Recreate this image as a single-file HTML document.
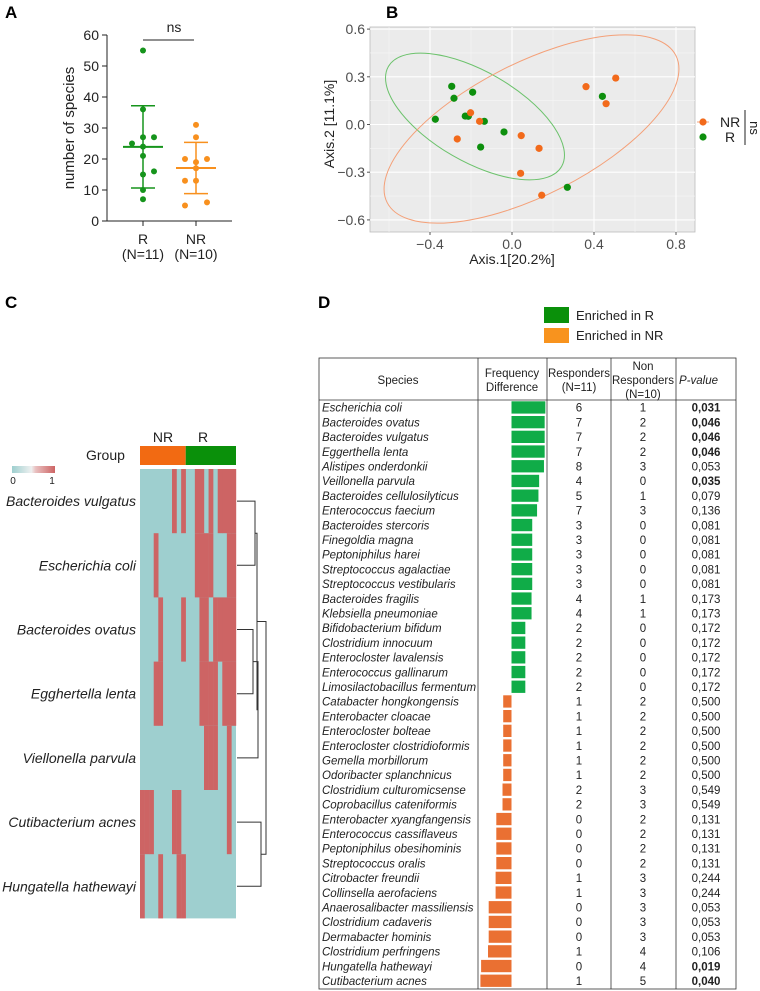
<!DOCTYPE html>
<html><head><meta charset="utf-8"><style>
html,body{margin:0;padding:0;background:#fff;}
svg{display:block;font-family:"Liberation Sans",Arial,sans-serif;}
</style></head><body>
<svg id="fig" width="760" height="991" viewBox="0 0 760 991" xmlns="http://www.w3.org/2000/svg">
<g id="pA"></g>
<g id="pB"></g>
<g id="pC"></g>
<g id="pD"></g>
</svg>
<script>
// ---- Panel A data ----
const aGroups = ["R","NR"];
const aGroupN = ["(N=11)","(N=10)"];
const aRvals = [55,36,27,27,25,24,21,15,16,10,7];
const aRjit = [0,0,0,1,-1,0,0,0,1,0,0];
const aNRvals = [31,27,20,19,20,17,13,13,6,5];
const aNRjit = [0,0,-1,0,1,0,-1,0,1,-1];
const aTicks = [0,10,20,30,40,50,60];
// ---- Panel B data ----
const bRx = [-0.294,-0.192,-0.283,-0.374,-0.228,-0.213,-0.135,-0.039,-0.153,0.441,0.270];
const bRy = [0.240,0.203,0.165,0.033,0.053,0.052,0.020,-0.047,-0.142,0.177,-0.395];
const bNRx = [0.506,0.361,0.459,-0.202,-0.158,-0.267,0.045,0.132,0.042,0.145];
const bNRy = [0.292,0.238,0.131,0.074,0.020,-0.091,-0.070,-0.150,-0.307,-0.445];
const bXticks = [-0.4,0.0,0.4,0.8];
const bYticks = [0.6,0.3,0.0,-0.3,-0.6];
// ---- Panel C data ----
const cSpecies = ["Bacteroides vulgatus","Escherichia coli","Bacteroides ovatus","Egghertella lenta","Viellonella parvula","Cutibacterium acnes","Hungatella hathewayi"];
const cPresent = [
 [7,9,12,13,15,17,18,19,20],
 [3,12,13,14,15,19,20],
 [4,9,13,14,16,17,18,19,20],
 [3,4,13,14,15,16,18,19,20],
 [14,15,16,19],
 [0,1,2,7,8,19],
 [0,4,8,9]
];
// ---- Panel D data ----
const dSpecies = ["Escherichia coli","Bacteroides ovatus","Bacteroides vulgatus","Eggerthella lenta","Alistipes onderdonkii","Veillonella parvula","Bacteroides cellulosilyticus","Enterococcus faecium","Bacteroides stercoris","Finegoldia magna","Peptoniphilus harei","Streptococcus agalactiae","Streptococcus vestibularis","Bacteroides fragilis","Klebsiella pneumoniae","Bifidobacterium bifidum","Clostridium innocuum","Enterocloster lavalensis","Enterococcus gallinarum","Limosilactobacillus fermentum","Catabacter hongkongensis","Enterobacter cloacae","Enterocloster bolteae","Enterocloster clostridioformis","Gemella morbillorum","Odoribacter splanchnicus","Clostridium culturomicsense","Coprobacillus cateniformis","Enterobacter xyangfangensis","Enterococcus cassiflaveus","Peptoniphilus obesihominis","Streptococcus oralis","Citrobacter freundii","Collinsella aerofaciens","Anaerosalibacter massiliensis","Clostridium cadaveris","Dermabacter hominis","Clostridium perfringens","Hungatella hathewayi","Cutibacterium acnes"];
const dR = [6,7,7,7,8,4,5,7,3,3,3,3,3,4,4,2,2,2,2,2,1,1,1,1,1,1,2,2,0,0,0,0,1,1,0,0,0,1,0,1];
const dNR = [1,2,2,2,3,0,1,3,0,0,0,0,0,1,1,0,0,0,0,0,2,2,2,2,2,2,3,3,2,2,2,2,3,3,3,3,3,4,4,5];
const dP = ["0,031","0,046","0,046","0,046","0,053","0,035","0,079","0,136","0,081","0,081","0,081","0,081","0,081","0,173","0,173","0,172","0,172","0,172","0,172","0,172","0,500","0,500","0,500","0,500","0,500","0,500","0,549","0,549","0,131","0,131","0,131","0,131","0,244","0,244","0,053","0,053","0,053","0,106","0,019","0,040"];

const NS="http://www.w3.org/2000/svg";
function mk(parent,tag,attrs,text){const e=document.createElementNS(NS,tag);for(const k in attrs)e.setAttribute(k,attrs[k]);if(text!==undefined)e.textContent=text;parent.appendChild(e);return e;}

// ================= Panel A =================
(function(){
const g=document.getElementById('pA');
const lab=mk(g,'text',{x:5,y:18,'font-size':17,'font-weight':'bold'},'A');


const y=v=>221-v*(186/60);
const xc=[143,196];
mk(g,'line',{x1:107,y1:35,x2:107,y2:221,stroke:'#222','stroke-width':1});
mk(g,'line',{x1:107,y1:221,x2:232,y2:221,stroke:'#222','stroke-width':1});
aTicks.forEach(t=>{
 mk(g,'line',{x1:102,y1:y(t),x2:107,y2:y(t),stroke:'#222'});
 const tl=mk(g,'text',{x:99,y:y(t)+5,'font-size':14,'text-anchor':'end',fill:'#222'},t);
 
 
});
xc.forEach((x,i)=>{
 mk(g,'line',{x1:x,y1:221,x2:x,y2:226,stroke:'#222'});
 const t1=mk(g,'text',{x:x,y:244,'font-size':14,'text-anchor':'middle',fill:'#222'},aGroups[i]);
 
 
 mk(g,'text',{x:x,y:259,'font-size':14,'text-anchor':'middle',fill:'#222'},aGroupN[i]);
});
const yt=mk(g,'text',{x:0,y:0,'font-size':15,'text-anchor':'middle',fill:'#222',transform:'translate(74,128) rotate(-90)'},'number of species');


mk(g,'line',{x1:143,y1:40,x2:194,y2:40,stroke:'#222'});
mk(g,'text',{x:174,y:32,'font-size':14,'text-anchor':'middle',fill:'#222'},'ns');
function grp(vals,jit,x,col,name){
 const n=vals.length,m=vals.reduce((a,b)=>a+b,0)/n;
 const sd=Math.sqrt(vals.reduce((a,b)=>a+(b-m)*(b-m),0)/(n-1));
 mk(g,'line',{x1:x,y1:y(m-sd),x2:x,y2:y(m+sd),stroke:col,'stroke-width':1.5});
 mk(g,'line',{x1:x-12,y1:y(m+sd),x2:x+12,y2:y(m+sd),stroke:col,'stroke-width':1.5});
 mk(g,'line',{x1:x-12,y1:y(m-sd),x2:x+12,y2:y(m-sd),stroke:col,'stroke-width':1.5});
 mk(g,'line',{x1:x-20,y1:y(m),x2:x+20,y2:y(m),stroke:col,'stroke-width':2});
 vals.forEach((v,i)=>{
  const c=mk(g,'circle',{cx:x+jit[i]*11,cy:y(v),r:3,fill:col});
  
  
 });
}
grp(aRvals,aRjit,xc[0],'#16941c','point-r');
grp(aNRvals,aNRjit,xc[1],'#f8901e','point-nr');
})();

// ================= Panel B =================
(function(){
const g=document.getElementById('pB');
const lab=mk(g,'text',{x:386,y:18,'font-size':17,'font-weight':'bold'},'B');


const L=370,R=695,T=27,B=232;
const x=v=>512+v*205, y=v=>124.5-v*159;
const bg=mk(g,'rect',{x:L,y:T,width:R-L,height:B-T,fill:'#ebebeb',stroke:'#bbb','stroke-width':0.8});


[-0.6,-0.2,0.2,0.6].forEach(v=>mk(g,'line',{x1:x(v),y1:T,x2:x(v),y2:B,stroke:'#f6f6f6','stroke-width':0.6}));
[0.45,0.15,-0.15,-0.45].forEach(v=>mk(g,'line',{x1:L,y1:y(v),x2:R,y2:y(v),stroke:'#f6f6f6','stroke-width':0.6}));
bXticks.forEach(v=>{
 mk(g,'line',{x1:x(v),y1:T,x2:x(v),y2:B,stroke:'#fff','stroke-width':1.1});
 mk(g,'line',{x1:x(v),y1:B,x2:x(v),y2:B+3,stroke:'#555'});
 const t=mk(g,'text',{x:x(v),y:B+17,'font-size':14,'text-anchor':'middle',fill:'#4d4d4d'},v===0?'0.0':(v<0?'\u2212'+Math.abs(v).toFixed(1):v.toFixed(1)));
 
 
});
bYticks.forEach(v=>{
 mk(g,'line',{x1:L,y1:y(v),x2:R,y2:y(v),stroke:'#fff','stroke-width':1.1});
 mk(g,'line',{x1:L-3,y1:y(v),x2:L,y2:y(v),stroke:'#555'});
 const t=mk(g,'text',{x:L-5,y:y(v)+5,'font-size':14,'text-anchor':'end',fill:'#4d4d4d'},v===0?'0.0':(v<0?'\u2212'+Math.abs(v).toFixed(1):v.toFixed(1)));
 
 
});
const xt=mk(g,'text',{x:512,y:264,'font-size':14,'text-anchor':'middle',fill:'#222'},'Axis.1[20.2%]');


const yt=mk(g,'text',{x:0,y:0,'font-size':14,'text-anchor':'middle',fill:'#222',transform:'translate(334,124) rotate(-90)'},'Axis.2 [11.1%]');


const e1=mk(g,'ellipse',{cx:475,cy:116.5,rx:100,ry:45,fill:'none',stroke:'#6cc26c','stroke-width':1,transform:'rotate(30 475 116.5)'});


const e2=mk(g,'ellipse',{cx:531.5,cy:129,rx:162,ry:66,fill:'none',stroke:'#f4a078','stroke-width':1,transform:'rotate(-27 531.5 129)'});


bRx.forEach((v,i)=>{const c=mk(g,'circle',{cx:x(v),cy:y(bRy[i]),r:3.6,fill:'#0d8f0d'});
 
 });
bNRx.forEach((v,i)=>{const c=mk(g,'circle',{cx:x(v),cy:y(bNRy[i]),r:3.6,fill:'#f26a1b'});
 
 });
const lg=mk(g,'g',{});


mk(lg,'line',{x1:697,y1:122,x2:709,y2:122,stroke:'#f4a078'});
mk(lg,'circle',{cx:703,cy:122,r:3.6,fill:'#f26a1b'});
mk(lg,'circle',{cx:703,cy:137,r:3.6,fill:'#0d8f0d'});
mk(lg,'text',{x:720,y:127,'font-size':14,fill:'#222'},'NR');
mk(lg,'text',{x:725,y:142,'font-size':14,fill:'#222'},'R');
mk(lg,'line',{x1:745,y1:110,x2:745,y2:145,stroke:'#222'});
mk(lg,'text',{x:0,y:0,'font-size':13,'text-anchor':'middle',fill:'#222',transform:'translate(750,128) rotate(90)'},'ns');
})();

// ================= Panel C =================
(function(){
const g=document.getElementById('pC');
const lab=mk(g,'text',{x:5,y:308,'font-size':17,'font-weight':'bold'},'C');


const HX=140,HW=96,HT=469,RH=64.2,NC=21,CW=HW/NC;
mk(g,'text',{x:163,y:442,'font-size':14,'text-anchor':'middle',fill:'#222'},'NR');
mk(g,'text',{x:203,y:442,'font-size':14,'text-anchor':'middle',fill:'#222'},'R');
mk(g,'text',{x:86,y:460,'font-size':14,fill:'#222'},'Group');
const gb1=mk(g,'rect',{x:HX,y:446,width:10*CW,height:19,fill:'#f26a12'});


const gb2=mk(g,'rect',{x:HX+10*CW,y:446,width:11*CW,height:19,fill:'#0a900a'});


const defs=mk(g,'defs',{});
const lgd=mk(defs,'linearGradient',{id:'cg',x1:0,x2:1,y1:0,y2:0});
mk(lgd,'stop',{offset:0,'stop-color':'#9ecfcf'});
mk(lgd,'stop',{offset:0.45,'stop-color':'#eef0f0'});
mk(lgd,'stop',{offset:0.55,'stop-color':'#e9c0c0'});
mk(lgd,'stop',{offset:1,'stop-color':'#cd6464'});
const cl=mk(g,'rect',{x:12,y:466,width:43,height:7,fill:'url(#cg)'});


mk(g,'text',{x:13,y:484,'font-size':10,'text-anchor':'middle',fill:'#222'},'0');
mk(g,'text',{x:52,y:484,'font-size':10,'text-anchor':'middle',fill:'#222'},'1');
mk(g,'rect',{x:HX,y:HT,width:HW,height:RH*7,fill:'#9ecfcf'});
cSpecies.forEach((s,r)=>{
 const ry=HT+r*RH;
 cPresent[r].forEach(c=>{
  const cell=mk(g,'rect',{x:HX+c*CW,y:ry,width:CW+0.2,height:RH,fill:'#cd6464'});
  
  
 });
 const t=mk(g,'text',{x:136,y:ry+RH/2+5,'font-size':14,'font-style':'italic','text-anchor':'end',fill:'#222'},s);
 
 
});
const cy=r=>HT+r*RH+RH/2;
const d=mk(g,'path',{fill:'none',stroke:'#333','stroke-width':1});


const n01=(cy(0)+cy(1))/2,n23=(cy(2)+cy(3))/2,n234=(n23+cy(4))/2,nA=(n01+n234)/2,n56=(cy(5)+cy(6))/2;
d.setAttribute('d',
 `M237 ${cy(0)}H255V${cy(1)}H237 M237 ${cy(2)}H253V${cy(3)}H237 M253 ${n23}H258V${cy(4)}H237 M255 ${n01}H257V${n234}H258 M237 ${cy(5)}H261V${cy(6)}H237 M257 ${nA}H266V${n56}H261`);
})();

// ================= Panel D =================
(function(){
const g=document.getElementById('pD');
const lab=mk(g,'text',{x:318,y:308,'font-size':17,'font-weight':'bold'},'D');


const l1=mk(g,'rect',{x:544,y:307,width:25,height:16,fill:'#0a900a'});


mk(g,'text',{x:576,y:320,'font-size':13,fill:'#222'},'Enriched in R');
const l2=mk(g,'rect',{x:544,y:328,width:25,height:15,fill:'#f8931e'});


mk(g,'text',{x:576,y:340,'font-size':13,fill:'#222'},'Enriched in NR');
const TL=319,TR=736,TT=358,HB=400,RH=14.7;
const cols=[478,547,611,676];
const TB=HB+RH*dSpecies.length+1;
const tb=mk(g,'rect',{x:TL,y:TT,width:TR-TL,height:TB-TT,fill:'none',stroke:'#333','stroke-width':0.8});


cols.forEach(c=>mk(g,'line',{x1:c,y1:TT,x2:c,y2:TB,stroke:'#333','stroke-width':0.8}));
mk(g,'line',{x1:TL,y1:HB,x2:TR,y2:HB,stroke:'#333','stroke-width':0.8});
const hs={'font-size':11.5,'text-anchor':'middle',fill:'#222'};
mk(g,'text',Object.assign({x:398,y:384},hs),'Species');
mk(g,'text',Object.assign({x:512,y:377},hs),'Frequency');
mk(g,'text',Object.assign({x:512,y:391},hs),'Difference');
mk(g,'text',Object.assign({x:579,y:377},hs),'Responders');
mk(g,'text',Object.assign({x:579,y:391},hs),'(N=11)');
mk(g,'text',Object.assign({x:643,y:370},hs),'Non');
mk(g,'text',Object.assign({x:643,y:384},hs),'Responders');
mk(g,'text',Object.assign({x:643,y:398},hs),'(N=10)');
mk(g,'text',{x:679,y:384,'font-size':11.5,'font-style':'italic',fill:'#222'},'P-value');
const bx=v=>511.5+v*76;
dSpecies.forEach((s,i)=>{
 const ry=HB+i*RH, tyy=ry+RH/2+4.3;
 const t=mk(g,'text',{x:322,y:tyy,'font-size':11.5,'font-style':'italic',fill:'#222'},s);
 
 
 const f=dR[i]/11-dNR[i]/10;
 const b=mk(g,'rect',{x:Math.min(bx(0),bx(f)),y:ry+1.3,width:Math.abs(bx(f)-bx(0)),height:RH-2.4,fill:f>=0?'#10ac48':'#ea7032'});
 
 
 mk(g,'text',{x:579,y:tyy,'font-size':11.5,'text-anchor':'middle',fill:'#222'},dR[i]);
 mk(g,'text',{x:643,y:tyy,'font-size':11.5,'text-anchor':'middle',fill:'#222'},dNR[i]);
 const sig=parseFloat(dP[i].replace(',','.'))<0.05;
 const p=mk(g,'text',{x:706,y:tyy,'font-size':11.5,'text-anchor':'middle',fill:'#222','font-weight':sig?'bold':'normal'},dP[i]);
 
 
});
})();
</script>
</body></html>
